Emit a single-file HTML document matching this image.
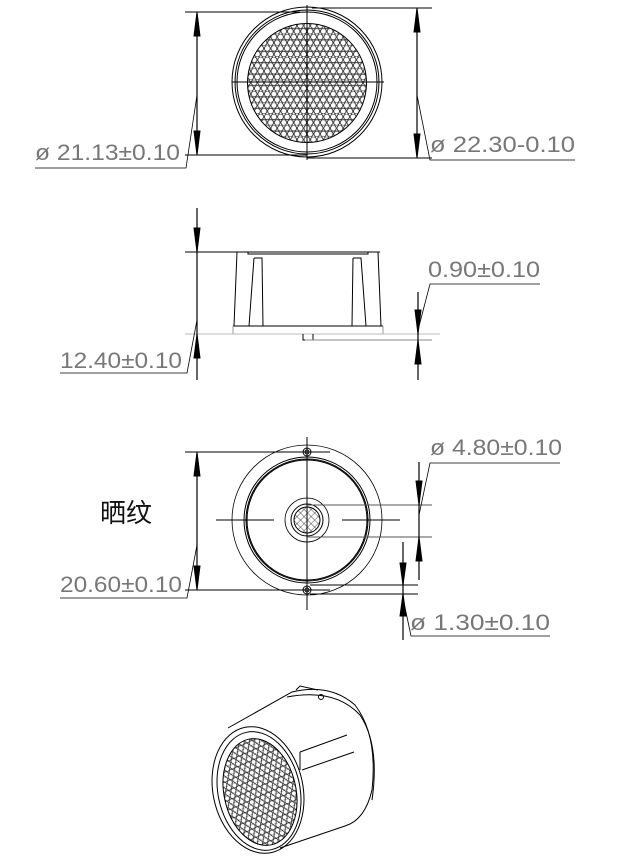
<!DOCTYPE html>
<html><head><meta charset="utf-8"><style>
html,body{margin:0;padding:0;background:#fff;}
svg{display:block;}
text{font-family:"Liberation Sans","Noto Sans CJK SC",sans-serif;fill:#777;}
</style></head><body>
<svg width="628" height="864" viewBox="0 0 628 864" xmlns="http://www.w3.org/2000/svg">
<defs>
<pattern id="hex" width="6.6" height="11.4" patternUnits="userSpaceOnUse">
<circle cx="3.3" cy="2.85" r="2.9" fill="none" stroke="#222" stroke-width="0.8"/>
<circle cx="0" cy="8.55" r="2.9" fill="none" stroke="#222" stroke-width="0.8"/>
<circle cx="6.6" cy="8.55" r="2.9" fill="none" stroke="#222" stroke-width="0.8"/>
</pattern>
<pattern id="hex2" width="6" height="9" patternUnits="userSpaceOnUse" patternTransform="rotate(-12)">
<circle cx="3" cy="2.25" r="2.5" fill="none" stroke="#222" stroke-width="0.8"/>
<circle cx="0" cy="6.75" r="2.5" fill="none" stroke="#222" stroke-width="0.8"/>
<circle cx="6" cy="6.75" r="2.5" fill="none" stroke="#222" stroke-width="0.8"/>
</pattern>
<pattern id="diag" width="5" height="5" patternUnits="userSpaceOnUse" patternTransform="rotate(45)">
<line x1="0" y1="0" x2="0" y2="5" stroke="#222" stroke-width="0.8"/>
<line x1="0" y1="0" x2="5" y2="0" stroke="#222" stroke-width="0.8"/>
</pattern>
</defs>
<g stroke="#000" stroke-width="1" fill="none">
<!-- TOP VIEW -->
<circle cx="307" cy="82" r="75"/>
<circle cx="307" cy="82" r="72"/>
<circle cx="307" cy="82" r="70"/>
<circle cx="307" cy="83" r="59.5" fill="url(#hex)"/>
<line x1="307" y1="5" x2="307" y2="160"/>
<line x1="232" y1="82" x2="384" y2="82"/>
<line x1="185" y1="12" x2="300" y2="12"/>
<line x1="185" y1="155" x2="307" y2="155"/>
<line x1="197" y1="14" x2="197" y2="153" stroke-width="1.2"/>
<path d="M197,12 l-3,24 h6z M197,155 l-3,-24 h6z" fill="#000"/>
<polyline points="197,95 186,168 35,168" stroke-width="0.8"/>
<line x1="312" y1="8" x2="432" y2="8"/>
<line x1="307" y1="158" x2="432" y2="158"/>
<line x1="417" y1="10" x2="417" y2="156" stroke-width="1.2"/>
<path d="M417,8 l-3,24 h6z M417,158 l-3,-24 h6z" fill="#000"/>
<polyline points="417,95 430,160 575,160" stroke-width="0.8"/>

<!-- SIDE VIEW -->
<line x1="185" y1="252" x2="380" y2="252"/>
<rect x="248" y="252" width="120" height="2"/>
<path d="M237,252 L234,326 M378,252 L381,326"/>
<path d="M254,258 h8 l1,68 M254,258 L249,326"/>
<path d="M353,258 h8 l5,68 M353,258 L352,326"/>
<line x1="233" y1="326" x2="383" y2="326"/>
<path d="M233,326 v8 h150 v-8" stroke="#999"/>
<line x1="185" y1="334" x2="440" y2="334" stroke="#bbb"/>
<path d="M303,334 v6 h10 v-6"/>
<line x1="305" y1="340" x2="432" y2="340" stroke="#888"/>
<line x1="197" y1="208" x2="197" y2="380" stroke-width="1.2"/>
<path d="M197,252 l-3,-24 h6z M197,334 l-3,24 h6z" fill="#000"/>
<polyline points="197,320 187,373 60,373" stroke-width="0.8"/>
<line x1="418" y1="292" x2="418" y2="380" stroke-width="1.2"/>
<path d="M418,334 l-3,-24 h6z M418,340 l-3,24 h6z" fill="#000"/>
<polyline points="418,330 430,284 540,284" stroke-width="0.8"/>

<!-- BOTTOM VIEW -->
<circle cx="307" cy="520" r="75" stroke-width="0.8"/>
<circle cx="307" cy="520" r="63"/>
<circle cx="307" cy="520" r="61"/>
<circle cx="307" cy="520" r="60"/>
<circle cx="307" cy="520" r="22" stroke-width="0.8"/>
<circle cx="307" cy="520" r="16"/>
<circle cx="307" cy="520" r="13" fill="url(#diag)"/>
<circle cx="307" cy="452" r="4"/><circle cx="307" cy="452" r="2"/>
<circle cx="307" cy="590" r="4"/><circle cx="307" cy="590" r="2"/>
<line x1="307" y1="437" x2="307" y2="610"/>
<line x1="216" y1="520" x2="274" y2="520"/>
<line x1="342" y1="520" x2="400" y2="520"/>
<line x1="185" y1="452" x2="330" y2="452"/>
<line x1="185" y1="590" x2="330" y2="590"/>
<line x1="197" y1="454" x2="197" y2="588" stroke-width="1.2"/>
<path d="M197,452 l-3,24 h6z M197,590 l-3,-24 h6z" fill="#000"/>
<polyline points="197,545 187,598 60,598" stroke-width="0.8"/>
<line x1="307" y1="505" x2="432" y2="505" stroke="#555"/>
<line x1="307" y1="537" x2="432" y2="537" stroke="#555"/>
<line x1="419" y1="462" x2="419" y2="580" stroke-width="1.2"/>
<path d="M419,505 l-3,-24 h6z M419,537 l-3,24 h6z" fill="#000"/>
<polyline points="419,515 430,463 560,463" stroke-width="0.8"/>
<line x1="310" y1="585" x2="418" y2="585"/>
<line x1="310" y1="594" x2="418" y2="594"/>
<line x1="403" y1="542" x2="403" y2="640" stroke-width="1.2"/>
<path d="M403,585 l-3,-22 h6z M403,594 l-3,22 h6z" fill="#000"/>
<polyline points="403,598 411,636 550,636" stroke-width="0.8"/>

<!-- ISO VIEW -->
<path d="M228,728 L292,692 Q330,683 355,705 Q378,735 372,790 Q365,820 345,826 L280,848" stroke-width="1"/>
<path d="M287,697 Q335,688 360,715 Q380,745 372,800" />
<path d="M296,690 L300,686 L318,690"/>
<circle cx="321" cy="697" r="2.5"/>
<path d="M300,752 L347,735 M302,770 L354,752 M300,752 v18"/>
<ellipse cx="258" cy="790" rx="45" ry="64" transform="rotate(-12 258 790)"/>
<ellipse cx="259" cy="791" rx="41" ry="60" transform="rotate(-12 259 791)"/>
<ellipse cx="260" cy="792" rx="36" ry="54" transform="rotate(-12 260 792)" fill="url(#hex2)"/>
</g>
<g font-size="22">
<text x="35" y="160" textLength="145" lengthAdjust="spacingAndGlyphs">ø 21.13±0.10</text>
<text x="430" y="152" textLength="145" lengthAdjust="spacingAndGlyphs">ø 22.30-0.10</text>
<text x="428" y="277" textLength="112" lengthAdjust="spacingAndGlyphs">0.90±0.10</text>
<text x="60" y="368" textLength="122" lengthAdjust="spacingAndGlyphs">12.40±0.10</text>
<text x="430" y="455" textLength="132" lengthAdjust="spacingAndGlyphs">ø 4.80±0.10</text>
<text x="60" y="592" textLength="122" lengthAdjust="spacingAndGlyphs">20.60±0.10</text>
<text x="410" y="630" textLength="140" lengthAdjust="spacingAndGlyphs">ø 1.30±0.10</text>
</g>
<text x="100" y="522" font-size="26" style="fill:#111">晒纹</text>
</svg>
</body></html>
